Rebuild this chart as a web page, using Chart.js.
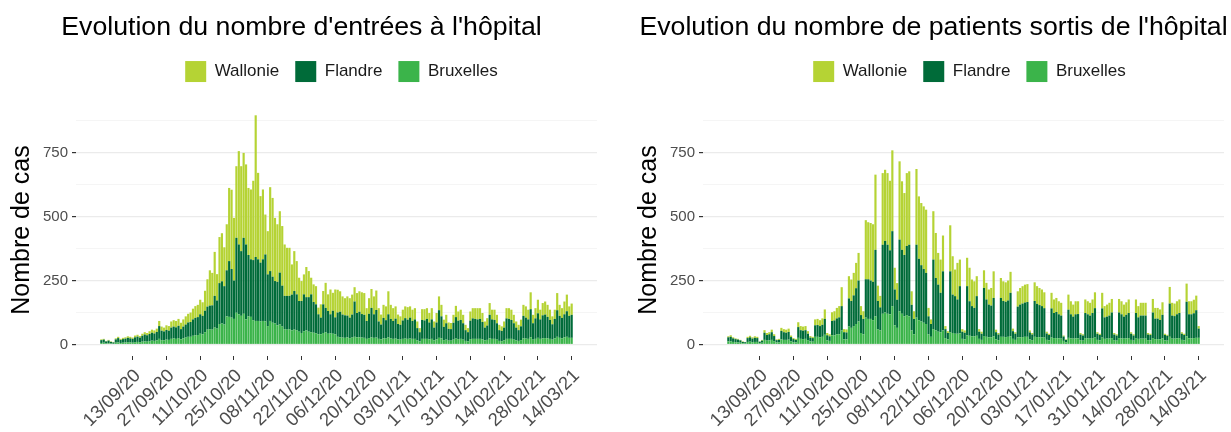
<!DOCTYPE html>
<html>
<head>
<meta charset="utf-8">
<script src="https://cdn.jsdelivr.net/npm/chart.js@4"></script>
<style>
  html, body { margin: 0; padding: 0; background: #fff; }
  #wrap { position: relative; width: 1231px; height: 432px; }
  canvas { position: absolute; top: 0; }
  #c1 { left: 0; }
  #c2 { left: 627px; }
</style>
</head>
<body>
<div id="wrap">
  <canvas id="c1" width="610" height="432"></canvas>
  <canvas id="c2" width="604" height="432"></canvas>
</div>
<script>
// one bar per day, 31/08/20 -> 14/03/21
const FIRST_DAY = Date.UTC(2020, 7, 31);
const N_DAYS = 196;

const TICK_LABELS = ['13/09/20', '27/09/20', '11/10/20', '25/10/20', '08/11/20', '22/11/20', '06/12/20',
  '20/12/20', '03/01/21', '17/01/21', '31/01/21', '14/02/21', '28/02/21', '14/03/21'];
const Y_GRID = [0, 125, 250, 375, 500, 625, 750, 875];

const REGIONS = ['Bruxelles', 'Flandre', 'Wallonie'];
const COLORS = ['#3bb44a', '#006b39', '#b5d334'];

// entrées à l'hôpital
const ENTREES_BRUXELLES = [
  6,7,4,5,4,3,7,8,6,7, 8,9,8,7,9,10,9,11,12,11, 13,15,14,16,22,17,16,19,18,22,
  24,22,25,20,24,27,30,30,34,36, 37,42,40,48,58,60,58,66,62,80, 82,78,110,108,105,100,124,118,112,120,
  98,110,108,95,92,92,90,92,90,72, 92,85,82,75,78,70,60,58,60,55, 58,56,50,45,52,55,50,48,46,44,
  40,40,45,48,42,44,42,40,
  30,28,27,26,28,25,27,30,28,28, 27,26,22,25,28,26,27,22,20,24, 23,28,24,22,23,20,19,22,23,22,
  23,22,22,16,12,22,22,22,20,22, 16,20,26,24,17,19,15,15,19,23, 21,22,19,14,12,21,22,22,22,22,
  20,16,18,24,22,22,19,14,13,16, 22,22,22,19,16,14,17,24,23,22, 28,19,22,26,22,24,25,24,22,19,
  24,30,26,24,28,30,26,26];
const ENTREES_FLANDRE = [
  11,12,8,10,6,5,13,17,12,14, 15,17,16,15,19,21,18,23,27,25, 28,31,29,33,50,37,35,38,36,44,
  46,45,48,40,46,51,56,58,64,68, 70,76,72,84,90,92,95,124,110,160, 165,150,180,218,190,150,293,273,253,297,
  293,240,225,235,250,241,230,241,262,202, 195,180,166,170,203,160,130,132,130,140, 151,140,120,125,144,130,135,148,120,113,
  78,65,112,95,89,74,90,66,
  95,100,90,88,85,80,90,138,95,100, 92,90,70,95,115,92,108,68,58,80, 72,90,76,70,78,60,58,72,80,75,
  82,70,76,48,36,74,72,78,66,76, 50,66,108,86,52,64,46,45,66,84, 72,74,64,42,36,72,80,78,76,78,
  68,50,56,92,76,74,64,42,40,50, 80,78,74,64,50,42,54,88,82,76, 110,64,80,96,76,90,92,84,74,60,
  76,104,86,80,90,100,86,90];
const ENTREES_WALLONIE = [
  3,3,2,3,2,2,4,5,4,5, 5,6,6,5,7,7,6,8,9,9, 11,12,12,13,20,16,15,18,18,24,
  25,25,27,25,28,32,34,37,42,46, 48,57,53,78,107,138,127,172,103,180, 188,152,180,286,310,245,280,365,332,332,
  313,262,273,310,554,338,260,273,156,169, 328,308,247,225,240,233,201,188,188,118, 156,130,91,78,78,118,102,65,69,71,
  26,52,52,98,65,97,70,109,
  89,80,71,67,75,76,78,56,78,80, 85,85,50,61,74,70,76,52,39,51, 54,90,55,50,48,37,33,42,46,49,
  44,44,44,26,16,42,44,42,37,44, 24,37,54,45,28,33,25,24,31,44, 36,40,33,21,16,36,40,42,44,42,
  35,24,29,46,38,40,33,21,18,24, 40,42,40,33,24,21,26,43,44,38, 66,33,40,53,38,48,51,47,40,31,
  36,67,43,38,50,65,37,44];

// patients sortis de l'hôpital
const SORTIES_BRUXELLES = [
  12,12,10,9,8,7,5,4,10,11, 9,10,10,5,7,18,15,16,18,13, 8,8,20,18,18,19,12,9,8,26,
  22,21,22,17,12,11,30,30,28,30, 38,16,14,36,36,40,40,55,20,20, 70,65,72,80,90,45,40,105,100,100,
  95,110,60,55,120,125,120,118,150,75, 65,130,120,110,115,110,55,40,105,95, 90,85,80,40,30,60,55,50,48,55,
  25,20,48,45,42,42,44,22,
  20,36,34,32,32,34,22,18,33,30, 28,28,32,20,17,30,30,29,30,32, 22,18,28,28,29,30,30,20,17,30,
  29,28,28,27,18,16,27,25,25,24, 23,14,8,26,24,23,24,24,17,15, 25,24,23,25,27,18,16,27,22,23,
  23,25,17,15,25,24,23,24,25,18, 15,25,22,23,23,23,17,16,25,21, 21,20,24,16,15,30,23,23,24,25,
  18,16,32,24,24,25,26,26];
const SORTIES_FLANDRE = [
  16,18,14,12,11,9,5,5,15,17, 14,16,15,6,8,28,22,24,30,20, 9,10,33,30,28,30,17,12,10,42,
  34,33,34,25,15,14,45,46,44,47, 62,20,18,56,58,62,66,95,28,27, 110,105,120,140,160,70,60,150,155,150,
  150,260,110,90,270,280,270,250,293,140, 110,280,250,240,270,280,100,60,285,240, 220,210,200,70,50,272,205,184,154,231,
  35,25,238,150,147,134,184,28,
  26,192,135,118,111,155,28,24,188,146, 128,124,150,28,22,152,140,138,142,170, 30,24,120,128,131,134,136,27,22,140,
  130,126,122,115,25,21,114,98,102,94, 90,17,10,110,94,86,94,95,22,20, 98,94,90,98,115,24,21,114,84,86,
  90,100,22,20,100,94,86,92,98,24, 20,98,84,90,90,90,22,21,100,80, 80,76,92,21,19,130,90,88,94,98,
  24,21,135,94,94,97,108,36];
const SORTIES_WALLONIE = [
  4,6,4,3,3,2,2,1,5,6, 5,6,5,1,3,10,8,8,10,7, 3,4,12,12,12,13,6,4,4,19,
  16,16,16,10,6,5,23,24,23,25, 37,9,8,34,36,41,44,74,12,12, 87,84,88,99,108,35,30,231,223,225,
  225,294,60,45,280,278,280,272,316,85, 65,306,268,242,285,287,53,30,296,244, 243,245,247,33,18,189,176,124,130,140,
  12,7,180,150,104,143,104,10,
  9,111,131,104,104,78,10,8,69,65, 59,69,104,10,6,78,77,76,78,82, 10,6,60,65,68,70,70,8,6,73,
  69,67,65,62,7,5,61,53,55,51, 50,4,2,59,51,47,51,50,6,5, 53,51,50,53,62,6,5,61,44,47,
  50,53,6,5,53,51,47,49,53,6, 5,53,44,50,50,50,6,5,53,42, 42,41,49,5,4,65,50,49,51,53,
  6,5,71,51,51,53,57,10];

// empty days on each side, like the ggplot axis expansion
const PAD = 10;

Chart.defaults.font.family = "'Liberation Sans', Arial, sans-serif";

function fmt(ms) {
  const d = new Date(ms);
  const p = n => String(n).padStart(2, '0');
  return p(d.getUTCDate()) + '/' + p(d.getUTCMonth() + 1) + '/' + p(d.getUTCFullYear() % 100);
}

const dates = [];
for (let i = 0; i < N_DAYS; i++) dates.push(fmt(FIRST_DAY + i * 86400000));

const blanks = Array(PAD).fill('');
const labels = [...blanks, ...dates, ...blanks];
const pad = arr => [...Array(PAD).fill(null), ...arr, ...Array(PAD).fill(null)];

// nudge a layout box sideways when it is drawn
function shiftDraw(box, dx) {
  const draw = box.draw;
  box.draw = function (...args) {
    this.ctx.save();
    this.ctx.translate(dx, 0);
    draw.apply(this, args);
    this.ctx.restore();
  };
}

// extra room under the legend + small horizontal shifts of title / legend
function headerPlugin(titleDx, legendDx) {
  return {
    id: 'header',
    beforeInit(chart) {
      const fit = chart.legend.fit;
      chart.legend.fit = function () {
        fit.call(this);
        this.height += 12;
      };
      shiftDraw(chart.legend, legendDx);
      shiftDraw(chart.titleBlock, titleDx);
    },
  };
}

function makeChart(id, title, series, padRight, titleDx, legendDx) {
  const ctx = document.getElementById(id).getContext('2d');
  return new Chart(ctx, {
    type: 'bar',
    data: {
      labels,
      datasets: series.map((s, i) => ({
        label: REGIONS[i],
        data: pad(s),
        backgroundColor: COLORS[i],
        borderWidth: 0,
        barPercentage: 0.9,
        categoryPercentage: 1,
      })),
    },
    plugins: [headerPlugin(titleDx, legendDx)],
    options: {
      responsive: false,
      animation: false,
      layout: { padding: { left: 0, right: padRight, top: 0, bottom: 0 } },
      plugins: {
        title: {
          display: true,
          text: title,
          color: '#000',
          font: { size: 26.7, weight: 'normal' },
          padding: { top: 12, bottom: 1 },
        },
        legend: {
          position: 'top',
          reverse: true,
          fullSize: false,
          labels: {
            boxWidth: 21,
            boxHeight: 21,
            padding: 16,
            color: '#1a1a1a',
            font: { size: 17 },
          },
        },
        tooltip: { enabled: false },
      },
      scales: {
        x: {
          stacked: true,
          offset: true,
          border: { display: false },
          grid: {
            offset: false,
            drawOnChartArea: false,
            drawTicks: true,
            tickLength: 4,
            tickColor: '#333',
            tickWidth: 1,
          },
          ticks: {
            autoSkip: false,
            minRotation: 45,
            maxRotation: 45,
            padding: 5,
            labelOffset: 5,
            color: '#4d4d4d',
            font: { size: 18.5 },
            callback: function (value) {
              const l = this.getLabelForValue(value);
              return TICK_LABELS.includes(l) ? l : null;
            },
          },
          afterFit: axis => { axis.height = 76; },
        },
        y: {
          stacked: true,
          min: -45,
          max: 940,
          afterBuildTicks: axis => { axis.ticks = Y_GRID.map(v => ({ value: v })); },
          border: { display: false },
          grid: {
            color: c => (c.tick && c.tick.value % 250 === 0) ? '#ebebeb' : '#f3f3f3',
            lineWidth: c => (c.tick && c.tick.value % 250 === 0) ? 1.2 : 0.8,
            tickColor: c => (c.tick && c.tick.value % 250 === 0) ? '#333' : 'rgba(0,0,0,0)',
            tickLength: 4,
          },
          ticks: {
            padding: 4,
            color: '#4d4d4d',
            font: { size: 15 },
            callback: v => (v % 250 === 0 ? v : ''),
          },
          title: {
            display: true,
            text: 'Nombre de cas',
            color: '#000',
            font: { size: 25 },
            padding: { top: 7, bottom: 4 },
          },
          afterFit: axis => { axis.width = 76; },
        },
      },
    },
  });
}

makeChart('c1', "Evolution du nombre d'entrées à l'hôpital",
  [ENTREES_BRUXELLES, ENTREES_FLANDRE, ENTREES_WALLONIE], 13, 3, 5);
makeChart('c2', "Evolution du nombre de patients sortis de l'hôpital",
  [SORTIES_BRUXELLES, SORTIES_FLANDRE, SORTIES_WALLONIE], 7, 8, 6);
</script>
</body>
</html>
